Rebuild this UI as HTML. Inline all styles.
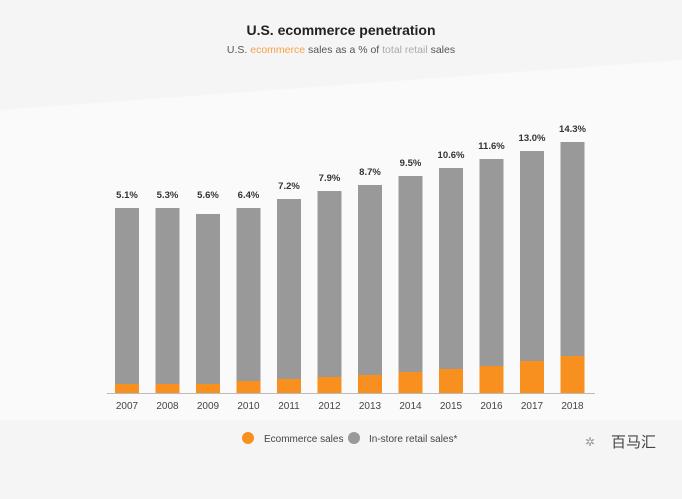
<!DOCTYPE html>
<html><head><meta charset="utf-8"><style>
html,body{margin:0;padding:0;background:#f6f6f6;}
svg{display:block;font-family:"Liberation Sans","Noto Sans CJK SC",sans-serif;}
.g{fill:#999}.o{fill:#f7901e}
.v{font-size:9.5px;font-weight:bold;fill:#333;text-anchor:middle}
.y{font-size:10px;fill:#444;text-anchor:middle}
</style></head><body>
<svg width="682" height="499" viewBox="0 0 682 499">
<rect width="682" height="499" fill="#f5f5f5"/>
<polygon points="0,110 682,60 682,420 0,420" fill="#fafafa"/>
<text x="341" y="35" text-anchor="middle" font-size="14" font-weight="bold" fill="#222">U.S. ecommerce penetration</text>
<text x="341" y="53" text-anchor="middle" font-size="10.5" fill="#555">U.S. <tspan fill="#f7a04a">ecommerce</tspan> sales as a % of <tspan fill="#aaa">total retail</tspan> sales</text>

<rect class="g" x="115" y="208" width="24" height="185"/><rect class="o" x="115" y="384" width="24" height="9"/>
<text class="v" x="127" y="198">5.1%</text><text class="y" x="127" y="409">2007</text>
<rect class="g" x="155.5" y="208" width="24" height="185"/><rect class="o" x="155.5" y="384" width="24" height="9"/>
<text class="v" x="167.5" y="198">5.3%</text><text class="y" x="167.5" y="409">2008</text>
<rect class="g" x="196" y="214" width="24" height="179"/><rect class="o" x="196" y="384" width="24" height="9"/>
<text class="v" x="208" y="198">5.6%</text><text class="y" x="208" y="409">2009</text>
<rect class="g" x="236.5" y="208" width="24" height="185"/><rect class="o" x="236.5" y="381" width="24" height="12"/>
<text class="v" x="248.5" y="198">6.4%</text><text class="y" x="248.5" y="409">2010</text>
<rect class="g" x="277" y="199" width="24" height="194"/><rect class="o" x="277" y="379" width="24" height="14"/>
<text class="v" x="289" y="189">7.2%</text><text class="y" x="289" y="409">2011</text>
<rect class="g" x="317.5" y="191" width="24" height="202"/><rect class="o" x="317.5" y="377" width="24" height="16"/>
<text class="v" x="329.5" y="181">7.9%</text><text class="y" x="329.5" y="409">2012</text>
<rect class="g" x="358" y="185" width="24" height="208"/><rect class="o" x="358" y="375" width="24" height="18"/>
<text class="v" x="370" y="175">8.7%</text><text class="y" x="370" y="409">2013</text>
<rect class="g" x="398.5" y="176" width="24" height="217"/><rect class="o" x="398.5" y="372" width="24" height="21"/>
<text class="v" x="410.5" y="166">9.5%</text><text class="y" x="410.5" y="409">2014</text>
<rect class="g" x="439" y="168" width="24" height="225"/><rect class="o" x="439" y="369" width="24" height="24"/>
<text class="v" x="451" y="158">10.6%</text><text class="y" x="451" y="409">2015</text>
<rect class="g" x="479.5" y="159" width="24" height="234"/><rect class="o" x="479.5" y="366" width="24" height="27"/>
<text class="v" x="491.5" y="149">11.6%</text><text class="y" x="491.5" y="409">2016</text>
<rect class="g" x="520" y="151" width="24" height="242"/><rect class="o" x="520" y="361" width="24" height="32"/>
<text class="v" x="532" y="141">13.0%</text><text class="y" x="532" y="409">2017</text>
<rect class="g" x="560.5" y="142" width="24" height="251"/><rect class="o" x="560.5" y="356" width="24" height="37"/>
<text class="v" x="572.5" y="132">14.3%</text><text class="y" x="572.5" y="409">2018</text>

<line x1="107" y1="393.5" x2="595" y2="393.5" stroke="#bbb" stroke-width="1"/>
<circle cx="248" cy="438" r="6" fill="#f7901e"/>
<text x="264" y="442" font-size="10" fill="#444">Ecommerce sales</text>
<circle cx="354" cy="438" r="6" fill="#999"/>
<text x="369" y="442" font-size="10" fill="#444">In-store retail sales*</text>
<text x="585" y="446" font-size="12" fill="#999">✲</text>
<text x="611" y="447" font-size="15" fill="#444">百马汇</text>
</svg>
</body></html>
